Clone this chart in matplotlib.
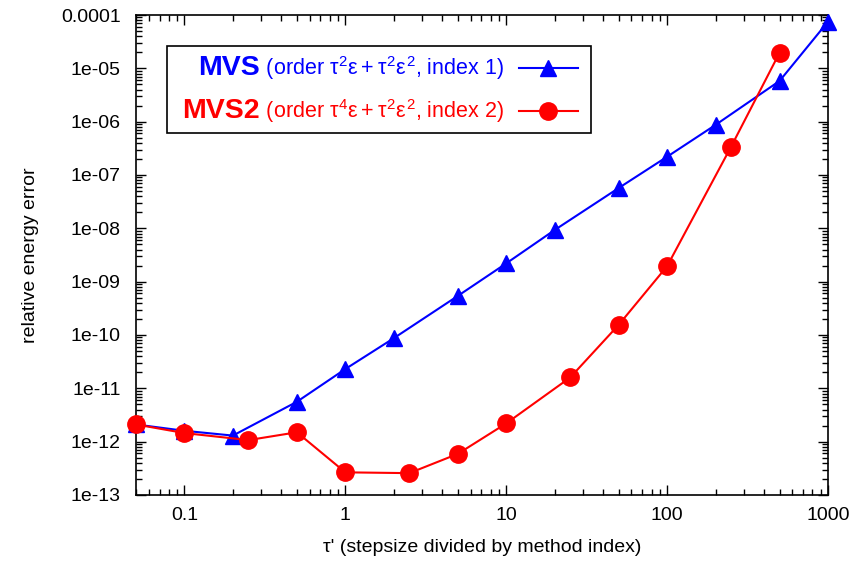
import matplotlib
matplotlib.use("Agg")
import matplotlib.pyplot as plt
from matplotlib.lines import Line2D
from matplotlib.patches import Rectangle
import matplotlib.ticker as mticker
import numpy as np

plt.rcParams['font.family'] = ['Liberation Sans', 'DejaVu Sans']
plt.rcParams['mathtext.fontset'] = 'custom'
plt.rcParams['mathtext.rm'] = 'Liberation Sans'
plt.rcParams['mathtext.it'] = 'Liberation Sans'

# Data
mvs_x = [0.05, 0.1, 0.2, 0.5, 1, 2, 5, 10, 20, 50, 100, 200, 500, 1000]
mvs_y = [2.1e-12, 1.6e-12, 1.3e-12, 5.6e-12, 2.3e-11, 8.7e-11, 5.4e-10, 2.2e-9,
         9.3e-9, 5.7e-8, 2.2e-7, 8.7e-7, 5.8e-6, 7.5e-5]
mvs2_x = [0.05, 0.1, 0.25, 0.5, 1, 2.5, 5, 10, 25, 50, 100, 250, 500]
mvs2_y = [2.1e-12, 1.45e-12, 1.07e-12, 1.5e-12, 2.66e-13, 2.57e-13, 5.9e-13,
          2.2e-12, 1.6e-11, 1.55e-10, 1.95e-9, 3.4e-7, 1.96e-5]
x_ticks = [0.1, 1, 10, 100, 1000]
x_ticklabels = ['0.1', '1', '10', '100', '1000']
y_ticks = [1e-13, 1e-12, 1e-11, 1e-10, 1e-9, 1e-8, 1e-7, 1e-6, 1e-5, 1e-4]
y_ticklabels = ['1e-13', '1e-12', '1e-11', '1e-10', '1e-09', '1e-08',
                '1e-07', '1e-06', '1e-05', '0.0001']

BLUE = '#0000ff'
RED = '#ff0000'
FS = 14

fig = plt.figure(figsize=(8.54, 5.70), dpi=100)
ax = fig.add_axes([136/854, 1-495/570, (828-136)/854, (495-15)/570])

ax.plot(mvs_x, mvs_y, color=BLUE, lw=1.5, marker='^', ms=11, zorder=3, clip_on=False)
ax.plot(mvs2_x, mvs2_y, color=RED, lw=1.5, marker='o', ms=12.5, zorder=4, clip_on=False)

ax.set_xscale('log')
ax.set_yscale('log')
ax.set_xlim(0.05, 1000)
ax.set_ylim(1e-13, 1e-4)
ax.set_xticks(x_ticks)
ax.set_xticklabels(x_ticklabels)
ax.set_yticks(y_ticks)
ax.set_yticklabels(y_ticklabels)
ax.xaxis.set_minor_locator(mticker.LogLocator(base=10, subs=np.arange(2, 10)))
ax.yaxis.set_minor_locator(mticker.LogLocator(base=10, subs=np.arange(2, 10), numticks=20))
ax.xaxis.set_minor_formatter(mticker.NullFormatter())
ax.yaxis.set_minor_formatter(mticker.NullFormatter())
ax.tick_params(which='both', direction='in', top=True, right=True, labelsize=FS, width=1)
ax.tick_params(which='major', length=7)
ax.tick_params(which='minor', length=4)
ax.tick_params(axis='y', which='major', pad=11)
ax.tick_params(axis='x', which='major', pad=9)
for s in ax.spines.values():
    s.set_linewidth(1.2)

ax.set_xlabel("τ' (stepsize divided by method index)", fontsize=FS, va='center')
ax.set_ylabel("relative energy error", fontsize=FS, va='center')
ax.xaxis.set_label_coords(0.5, (495-548)/480)
ax.yaxis.set_label_coords((30-136)/692, 0.5)

# Manual legend box
x0, y0, x1, y1 = 167/854, 1-133/570, 591/854, 1-46/570
fig.patches.append(Rectangle((x0, y0), x1-x0, y1-y0, transform=fig.transFigure,
                             fill=True, facecolor='white', edgecolor='black', lw=1.2, zorder=10))
rows = [(1-68/570, 'MVS', r' (order $\tau^2\varepsilon+\tau^2\varepsilon^2$, index 1)', BLUE, '^', 11),
        (1-111/570, 'MVS2', r' (order $\tau^4\varepsilon+\tau^2\varepsilon^2$, index 2)', RED, 'o', 12.5)]
for yy, bold, rest, col, mk, ms in rows:
    t2 = fig.text(504/854, yy, rest, color=col, fontsize=15.5, ha='right', va='center', zorder=11)
    fig.canvas.draw()
    bb = t2.get_window_extent()
    fig.text(bb.x0/854, yy, bold, color=col, fontsize=20.5, fontweight='bold', ha='right',
             va='center', zorder=11)
    fig.lines.append(Line2D([519/854, 578/854], [yy, yy], transform=fig.transFigure,
                            color=col, lw=1.5, zorder=11))
    fig.lines.append(Line2D([548.5/854], [yy], transform=fig.transFigure, color=col,
                            marker=mk, ms=ms, lw=0, zorder=12))

fig.savefig('out.png', dpi=100)
